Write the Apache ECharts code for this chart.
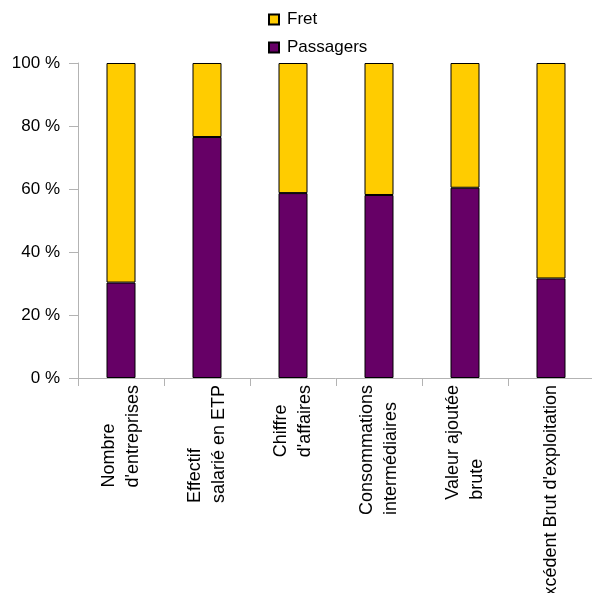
<!DOCTYPE html>
<html>
<head>
<meta charset="utf-8">
<script src="https://cdn.jsdelivr.net/npm/echarts@6/dist/echarts.min.js"></script>
<style>
html,body{margin:0;padding:0;background:#fff;}
#chart{width:592px;height:593px;}
</style>
</head>
<body>
<div id="chart"></div>
<script>
const categories = [
  "Nombre\nd'entreprises",
  "Effectif\nsalarié en ETP",
  "Chiffre\nd'affaires",
  "Consommations\nintermédiaires",
  "Valeur ajoutée\nbrute",
  "Excédent Brut d'exploitation"
];
const passagers = [30.3, 76.5, 58.7, 58.1, 60.4, 31.6];
const fret = [69.7, 23.5, 41.3, 41.9, 39.6, 68.4];
const yTicks = ["0 %", "20 %", "40 %", "60 %", "80 %", "100 %"];

const FONT = "Liberation Sans, Arial, sans-serif";
const chart = echarts.init(document.getElementById('chart'), null, {renderer: 'canvas'});
chart.setOption({
  animation: false,
  backgroundColor: '#fff',
  textStyle: {fontFamily: FONT},
  legend: {
    orient: 'vertical',
    left: 268,
    top: 11,
    padding: 0,
    itemWidth: 10,
    itemHeight: 10,
    itemGap: 11,
    icon: 'rect',
    data: ['Fret', 'Passagers'],
    textStyle: {fontSize: 17, color: '#000', fontFamily: FONT, padding: [0, 0, 0, 3]}
  },
  grid: {left: 78, top: 63, width: 516, bottom: 215, outerBoundsMode: 'none', containLabel: false},
  xAxis: {
    type: 'category',
    data: categories,
    axisLine: {lineStyle: {color: '#b3b3b3'}},
    axisTick: {show: true, length: 8, lineStyle: {color: '#b3b3b3'}, alignWithLabel: false},
    axisLabel: {
      rotate: 90,
      interval: 0,
      margin: 7,
      hideOverlap: false,
      formatter: function (v) {
        return v.split('\n').map(function (s) { return '{a|' + s + '}'; }).join('\n');
      },
      rich: {a: {align: 'left', fontSize: 18, lineHeight: 24, color: '#000', fontFamily: FONT}}
    }
  },
  yAxis: {
    type: 'value',
    min: 0,
    max: 100,
    interval: 20,
    splitLine: {show: false},
    axisLine: {show: true, lineStyle: {color: '#b3b3b3'}},
    axisTick: {show: true, length: 9, lineStyle: {color: '#b3b3b3'}},
    axisLabel: {
      fontSize: 17,
      color: '#000',
      margin: 18,
      fontFamily: FONT,
      formatter: function (v) { return yTicks[Math.round(v / 20)]; }
    }
  },
  series: [
    {
      name: 'Passagers', type: 'bar', stack: 'total', data: passagers, barWidth: 29,
      itemStyle: {color: '#660066', borderColor: '#000', borderWidth: 1}
    },
    {
      name: 'Fret', type: 'bar', stack: 'total', data: fret, barWidth: 29,
      itemStyle: {color: '#ffcc00', borderColor: '#000', borderWidth: 1}
    }
  ]
});
</script>
</body>
</html>
